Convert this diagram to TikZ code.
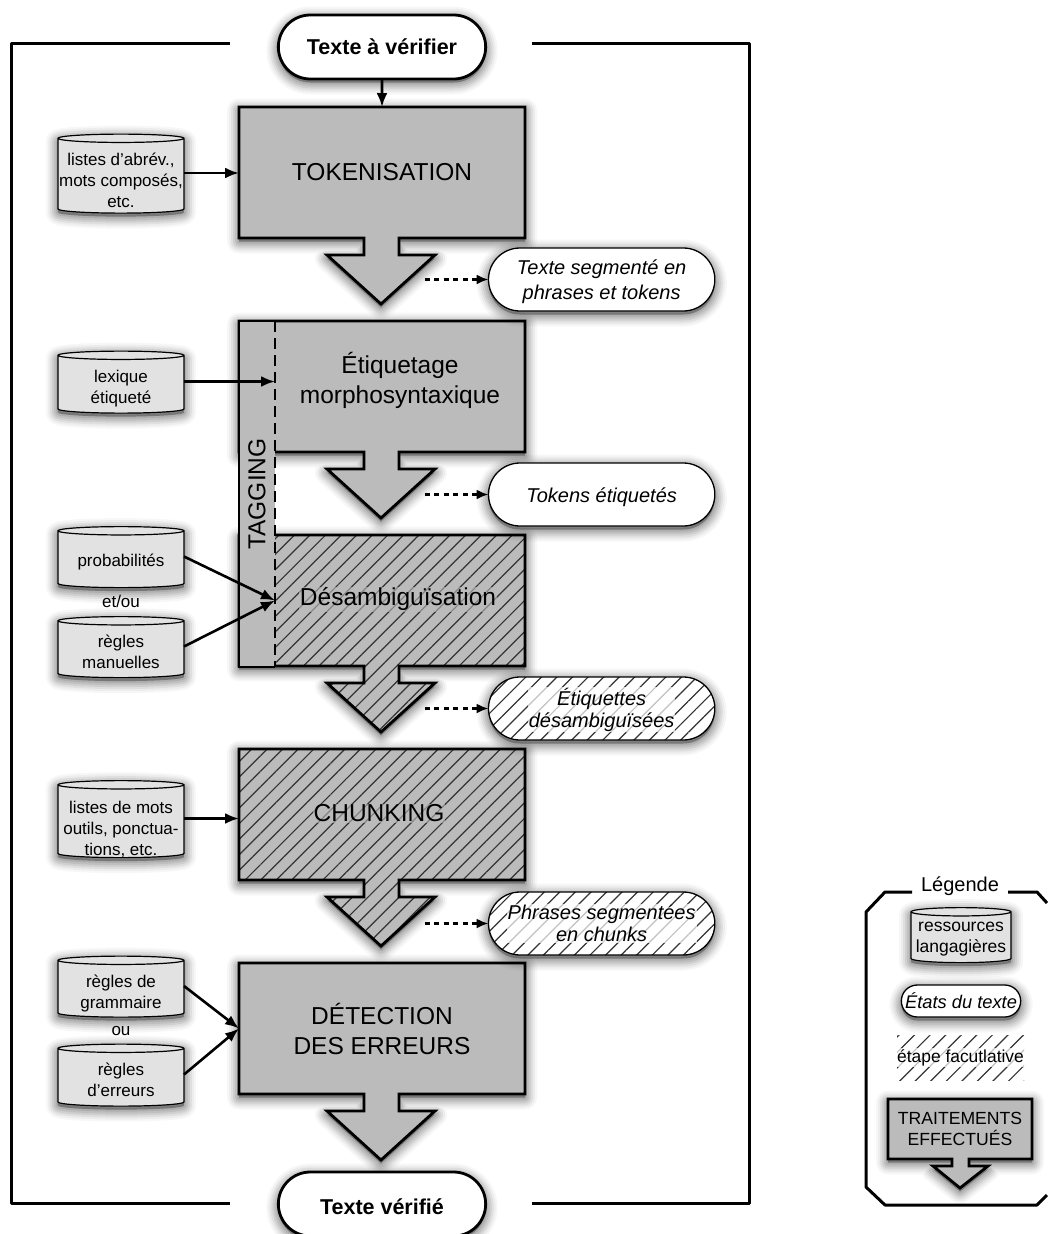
\documentclass[tikz,border=0pt]{standalone}
\usepackage{fontspec}
\setmainfont{Liberation Sans}
\usetikzlibrary{positioning, shapes.geometric, shapes.misc, patterns.meta, arrows.meta}

\pgfdeclarelayer{background}
\pgfsetlayers{background,main}

\definecolor{stepgray}{HTML}{BBBBBB}
\definecolor{resgray}{HTML}{E2E2E2}

% box with its big arrow below, #1 is the box node
\newcommand{\stepshape}[2]{
  \begin{pgfonlayer}{background}
  \path[#2] (#1.north west) -- (#1.north east) -- (#1.south east) -- ++(-126,0) -- ++(0,17)
    -- ++(36,0) -- ++(-54,49) -- ++(-54,-49) -- ++(37,0) -- ++(0,-17) -- (#1.south west) -- cycle;
  \end{pgfonlayer}
}
\newcommand{\resfill}{\phantom{mmmmm}}

\begin{document}
\begin{tikzpicture}[
x=1pt, y=-1pt,
blurstep/.style 2 args={preaction={transform canvas={yshift=-3.5pt}, fill=black, draw=black, line join=round,
  line width=#1, opacity=#2}},
softshadow/.style={
  blurstep={24pt}{.03},
  blurstep={20pt}{.04},
  blurstep={16pt}{.06},
  blurstep={12pt}{.07},
  blurstep={8pt}{.08},
  blurstep={4pt}{.09},
},
stepbox/.style={rectangle,
  minimum width=286pt,
  minimum height=131pt,
  inner sep=0pt,
  outer sep=0pt,
  align=center,
  font=\fontsize{24.5}{30}\selectfont,
},
stepline/.style={draw=black, line width=2.8pt, line join=miter},
hatched/.style={pattern={Lines[angle=45,distance=11pt,line width=1.2pt]}, pattern color=black!80},
halogray/.style={fill=stepgray, fill opacity=.6, text opacity=1, inner sep=1pt, align=center, font=\fontsize{24.5}{30}\selectfont},
halowhite/.style={fill=white, fill opacity=.7, text opacity=1, inner sep=1pt, align=center, font=\fontsize{20}{22}\selectfont\itshape},
resource/.style={cylinder,
  shape border rotate=90,
  aspect=0.2,
  draw=black,
  line width=1.2pt,
  fill=resgray,
  minimum width=126pt,
  inner sep=0pt,
  outer sep=0pt,
  softshadow,
},
restext/.style={inner sep=0pt, align=center, font=\fontsize{17}{21}\selectfont},
endpoint/.style={rounded rectangle,
  draw=black,
  line width=2.8pt,
  fill=white,
  minimum width=214pt,
  minimum height=64pt,
  outer sep=0pt,
  softshadow,
  font=\fontsize{21.5}{26}\selectfont\bfseries,
},
statepill/.style={rounded rectangle,
  draw=black,
  line width=1.3pt,
  fill=white,
  minimum width=233pt,
  minimum height=63pt,
  outer sep=0pt,
  align=center,
  softshadow,
  font=\fontsize{20}{25}\selectfont\itshape,
},
inarrow/.style={->, line width=2.6pt},
outarrow/.style={-{Latex[length=12pt,width=10pt]}, line width=2.2pt, dash pattern=on 5pt off 4.5pt},
smalltext/.style={font=\fontsize{17}{21}\selectfont, inner sep=0pt},
frameline/.style={line width=3pt, line join=round},
>={Latex[length=14pt,width=11pt]}
]
\useasboundingbox (0,0) rectangle (1047,1234);

% main column
\node[endpoint] (start) at (382,47) {Texte à vérifier};
\node[stepbox, below=28pt of start] (tok) {TOKENISATION};
\node[stepbox, below=83pt of tok] (etiq) {};
\node[stepbox, below=83pt of etiq] (desamb) {};
\node[stepbox, below=83pt of desamb] (chunk) {};
\node[stepbox, below=83pt of chunk] (detect) {DÉTECTION\\DES ERREURS};
\node[endpoint, below=78pt of detect] (stop) {\rule{0pt}{22pt}Texte vérifié};

\stepshape{tok}{stepline, fill=stepgray, softshadow}
\stepshape{etiq}{stepline, fill=stepgray, softshadow}
\stepshape{desamb}{fill=stepgray, softshadow}
\stepshape{desamb}{hatched}
\stepshape{desamb}{stepline}
\stepshape{chunk}{fill=stepgray, softshadow}
\stepshape{chunk}{hatched}
\stepshape{chunk}{stepline}
\stepshape{detect}{stepline, fill=stepgray, softshadow}

% tagging column
\node[rectangle, fill=stepgray, minimum width=36pt, minimum height=346pt, inner sep=0pt, outer sep=0pt,
  anchor=north west] (tag) at (etiq.north west) {};
\draw[stepline] (tag.north east) -- (tag.north west) -- (tag.south west) -- (tag.south east);
\draw[line width=2.4pt, dash pattern=on 11pt off 6pt] (tag.north east) -- (tag.south east);
\node[rotate=90, font=\fontsize{24.5}{30}\selectfont, inner sep=0pt] (tagtext) at (tag) {TAGGING};
\coordinate (tagin) at (desamb.west -| tag.east);

\node[inner sep=0pt, align=center, font=\fontsize{24.5}{30}\selectfont, xshift=18pt, yshift=6pt] (etiqtext) at (etiq)
    {Étiquetage\\morphosyntaxique};
\node[halogray, xshift=16pt, yshift=1pt] (desambtext) at (desamb) {Désambiguïsation};
\node[halogray, xshift=-3pt, yshift=1pt] (chunktext) at (chunk) {CHUNKING};

% states of the text
\node[statepill, below right=10pt and -5pt of tok.south east] (tokpill)
    {\rule{0pt}{20pt}Texte segmenté en\\phrases et tokens};
\node[statepill, below right=11pt and -5pt of etiq.south east] (etiqpill)
    {\rule{0pt}{20pt}Tokens étiquetés};
\node[statepill, below right=11pt and -5pt of desamb.south east, preaction={fill=white}, hatched] (desambpill) {};
\node[halowhite, yshift=-1pt] (desambpilltext) at (desambpill) {Étiquettes\\désambiguïsées};
\node[statepill, below right=12pt and -5pt of chunk.south east, preaction={fill=white}, hatched] (chunkpill) {};
\node[halowhite] (chunkpilltext) at (chunkpill) {Phrases segmentées\\en chunks};

\foreach \pill in {tokpill, etiqpill, desambpill, chunkpill} {
  \coordinate[left=64pt of \pill.west] (\pill dash);
  \draw[outarrow] (\pill dash) -- (\pill.west);
}

% resources
\node[resource, minimum height=79pt, left=55pt of tok, yshift=-3.5pt] (abrev) {\resfill};
\node[restext, yshift=-4pt] (abrevtext) at (abrev) {listes d'abrév.,\\mots composés,\\etc.};
\node[resource, minimum height=62pt, left=55pt of etiq, yshift=2pt] (lexique) {\resfill};
\node[restext, yshift=-4.5pt] (lexiquetext) at (lexique) {lexique\\étiqueté};
\node[resource, minimum height=61pt, left=55pt of desamb, yshift=41pt] (proba) {\resfill};
\node[restext, yshift=-2.5pt] (probatext) at (proba) {probabilités};
\node[smalltext, below=7pt of proba] (etou) {et/ou};
\node[resource, minimum height=61pt, left=55pt of desamb, yshift=-49pt] (regles) {\resfill};
\node[restext, yshift=-2.5pt] (reglestext) at (regles) {règles\\manuelles};
\node[resource, minimum height=77pt, left=55pt of chunk, yshift=-7pt] (outils) {\resfill};
\node[restext, yshift=-8pt] (outilstext) at (outils) {listes de mots\\outils, ponctua-\\tions, etc.};
\node[resource, minimum height=61pt, left=55pt of detect, yshift=39.5pt] (grammaire) {\resfill};
\node[restext, yshift=-4.5pt] (grammairetext) at (grammaire) {règles de\\grammaire};
\node[smalltext, below=9pt of grammaire] (ou) {ou};
\node[resource, minimum height=62pt, left=55pt of detect, yshift=-49pt] (erreurs) {\resfill};
\node[restext, yshift=-2pt] (erreurstext) at (erreurs) {règles\\d'erreurs};

\draw[inarrow] (start) -- (tok);
\draw[inarrow] ([yshift=3pt]abrev.east) -- ([yshift=3pt]abrev.east -| tok.west);
\draw[inarrow] ([yshift=3pt]lexique.east) -- ([yshift=3pt]lexique.east -| tag.east);
\draw[inarrow] ([yshift=3pt]proba.east) -- (tagin);
\draw[inarrow] ([yshift=3pt]regles.east) -- (tagin);
\draw[inarrow] ([yshift=3pt]outils.east) -- ([yshift=3pt]outils.east -| chunk.west);
\draw[inarrow] ([yshift=3pt]grammaire.east) -- (detect.west);
\draw[inarrow] ([yshift=3pt]erreurs.east) -- (detect.west);

% frame
\draw[frameline] (230,43) -- (11,43) -- (11,1203) -- (230,1203);
\draw[frameline] (532,43) -- (749,43) -- (749,1203) -- (532,1203);

% legend
\draw[frameline] (912,892) -- (885,892) -- (866,912) -- (866,1187) -- (885,1205) -- (1037,1205) -- (1047,1195);
\draw[frameline] (1008,892) -- (1037,892) -- (1047,903);
\node[font=\fontsize{20}{24}\selectfont, inner sep=0pt] (legend) at (960,886) {Légende};
\node[resource, minimum width=100pt, minimum height=55pt] (legres) at (961,937.5) {\resfill};
\node[restext, yshift=-1.5pt, font=\fontsize{17.5}{21}\selectfont] (legrestext) at (legres) {ressources\\langagières};
\node[statepill, minimum width=126pt, minimum height=32pt, font=\fontsize{18.3}{22}\selectfont\itshape] (legstate) at (961,1001)
    {États du texte};
\node[rectangle, minimum width=127pt, minimum height=45pt, inner sep=0pt, hatched] (legopt) at (960.5,1057.5) {};
\node[fill=white, fill opacity=.7, text opacity=1, inner sep=1pt, font=\fontsize{17.4}{21}\selectfont] (legopttext) at (legopt)
    {étape facutlative};
\node[rectangle, minimum width=144pt, minimum height=60pt, inner sep=0pt, outer sep=0pt, align=center,
  font=\fontsize{17.6}{21}\selectfont] (legstep) at (960,1129) {TRAITEMENTS\\EFFECTUÉS};
\begin{pgfonlayer}{background}
\path[stepline, fill=stepgray, softshadow] (legstep.north west) -- (legstep.north east) -- (legstep.south east)
  -- (969,1159) -- (969,1166) -- (988,1166) -- (960,1188) -- (933,1166) -- (952,1166) -- (952,1159)
  -- (legstep.south west) -- cycle;
\end{pgfonlayer}
\end{tikzpicture}
\end{document}
